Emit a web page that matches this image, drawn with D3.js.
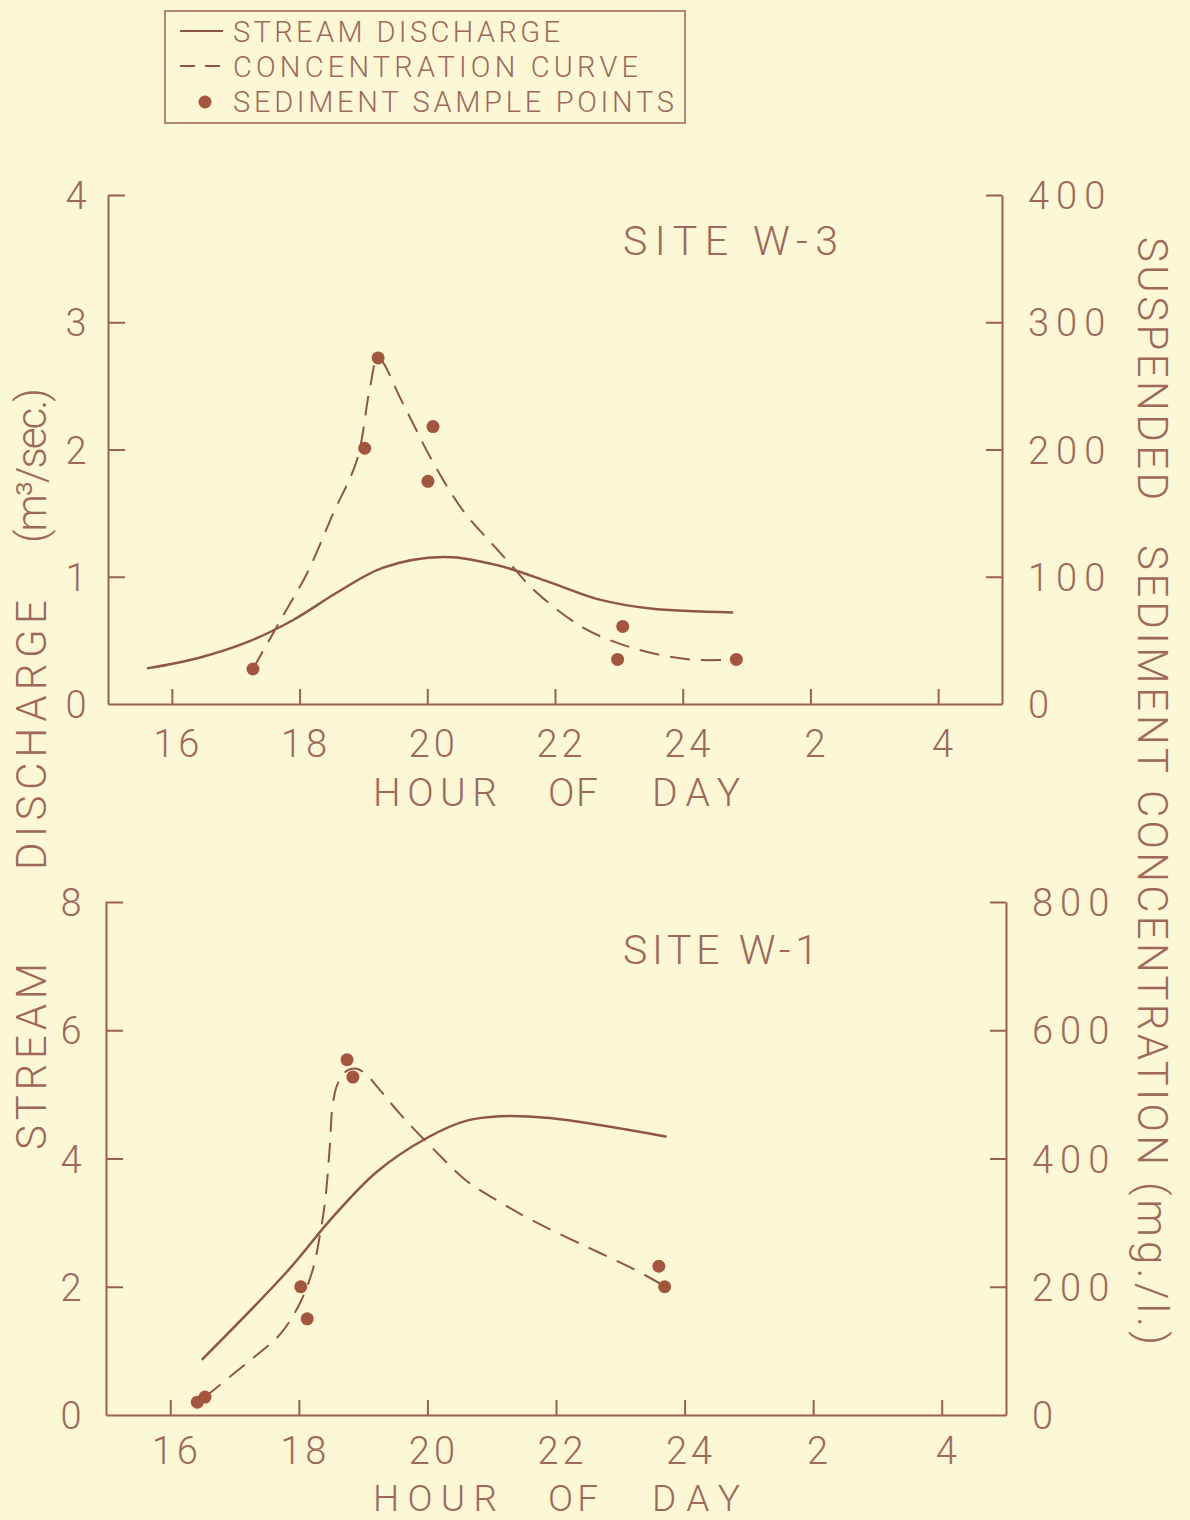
<!DOCTYPE html>
<html>
<head>
<meta charset="utf-8">
<script src="https://cdn.jsdelivr.net/npm/d3@7"></script>
<style>
  html, body { margin: 0; padding: 0; background: #fcf8d6; }
  svg { display: block; }
  text { font-family: "Roboto", "Lato", sans-serif; font-weight: 300; fill: #a0685a; }
</style>
</head>
<body>
<script>

// tick values shared by both panels
const hourTicks = [16, 18, 20, 22, 24, 26, 28];
const hourTickLabels = ["16", "18", "20", "22", "24", "2", "4"];

// SITE W-3 : [hour, discharge m3/sec]
const w3Discharge = [
    [15.61, 0.28], [16.4, 0.36], [17.2, 0.49], [17.9, 0.66], [18.6, 0.88],
    [19.3, 1.07], [20.25, 1.155], [21.1, 1.09], [21.9, 0.96], [22.7, 0.82],
    [23.5, 0.75], [24.79, 0.72]
];
// [hour, concentration mg/l]
const w3Concentration = [
    [17.27, 27.5], [17.69, 65], [18.12, 103], [18.52, 149], [18.90, 192],
    [19.10, 248], [19.23, 272], [19.62, 236], [20.09, 190], [20.56, 152],
    [21.03, 125], [21.30, 110], [21.66, 90], [22.44, 60], [23.22, 44],
    [24.11, 35], [24.83, 35]
];
const w3Samples = [
    [17.27, 27.5], [19.02, 201], [19.23, 272], [20.01, 175], [20.09, 218],
    [22.98, 35], [23.06, 61], [24.84, 35]
];

// SITE W-1
const w1Discharge = [
    [16.49, 0.86], [17.81, 2.23], [18.53, 3.09], [19.21, 3.79], [19.99, 4.32],
    [20.61, 4.59], [21.13, 4.66], [21.90, 4.63], [23.72, 4.34]
];
const w1Concentration = [
    [16.54, 28], [16.98, 64], [17.35, 94], [17.71, 126], [18.02, 175],
    [18.22, 228], [18.33, 282], [18.41, 335], [18.48, 417], [18.53, 487],
    [18.61, 518], [18.75, 537], [18.90, 540], [19.06, 530], [19.21, 513],
    [19.57, 470], [20.09, 415], [20.61, 365], [21.13, 332], [21.64, 303],
    [22.42, 265], [23.20, 228], [23.69, 201]
];
const w1Samples = [
    [16.42, 20], [16.54, 28], [18.03, 200], [18.13, 150], [18.75, 554],
    [18.84, 527], [23.60, 232], [23.69, 200]
];

const ink = "#8f5646";
const dotColor = "#a4553d";
const axisColor = "#9a6050";

const svg = d3.select("body").append("svg")
    .attr("width", 1190)
    .attr("height", 1520);

// legend box
const legend = svg.append("g").attr("class", "legend");
legend.append("rect")
    .attr("x", 165).attr("y", 11)
    .attr("width", 520).attr("height", 112)
    .attr("fill", "none")
    .attr("stroke", axisColor)
    .attr("stroke-width", 1.5);
legend.append("line")
    .attr("x1", 180).attr("x2", 223).attr("y1", 31).attr("y2", 31)
    .attr("stroke", ink).attr("stroke-width", 2);
legend.append("line")
    .attr("x1", 180).attr("x2", 222).attr("y1", 66).attr("y2", 66)
    .attr("stroke", ink).attr("stroke-width", 2)
    .attr("stroke-dasharray", "15,10");
legend.append("circle")
    .attr("cx", 205).attr("cy", 102).attr("r", 6.5)
    .attr("fill", dotColor);
const legendItems = [
    {label: "STREAM DISCHARGE", y: 42, len: 327},
    {label: "CONCENTRATION CURVE", y: 77, len: 405},
    {label: "SEDIMENT SAMPLE POINTS", y: 112, len: 441}
];
legend.selectAll("text.item")
    .data(legendItems)
    .join("text")
    .attr("class", "item")
    .attr("x", 233)
    .attr("y", d => d.y)
    .attr("font-size", 29)
    .attr("textLength", d => d.len)
    .attr("lengthAdjust", "spacing")
    .text(d => d.label);

function drawPanel(p) {
    let g = svg.append("g");

    let x = d3.scaleLinear().domain([15, 29]).range([p.left, p.right]);
    let yQ = d3.scaleLinear().domain([0, p.qMax]).range([p.bottom, p.top]);
    let yC = d3.scaleLinear().domain([0, p.qMax * 100]).range([p.bottom, p.top]);

    // x axis, ticks pointing up
    let xAxis = d3.axisBottom(x)
        .tickValues(hourTicks)
        .tickSizeInner(-15)
        .tickSizeOuter(0)
        .tickFormat((d, i) => hourTickLabels[i]);
    let gx = g.append("g")
        .attr("transform", "translate(0," + p.bottom + ")")
        .call(xAxis);
    gx.selectAll("text")
        .attr("y", p.labelDrop)
        .attr("dy", null)
        .attr("dx", 6)
        .attr("font-size", 38)
        .attr("letter-spacing", 4)
        .attr("fill", null)
        .attr("font-family", null);

    // left axis, ticks pointing in
    let yAxisL = d3.axisLeft(yQ)
        .tickValues(d3.range(0, p.qMax + 0.01, p.qStep))
        .tickSizeInner(-17)
        .tickSizeOuter(0)
        .tickFormat(d3.format("d"));
    let gl = g.append("g")
        .attr("transform", "translate(" + p.left + ",0)")
        .call(yAxisL);
    gl.selectAll("text")
        .attr("x", -p.leftLabelGap)
        .attr("dy", "0.36em")
        .attr("text-anchor", "middle")
        .attr("font-size", 38)
        .attr("fill", null)
        .attr("font-family", null);
    gl.selectAll(".tick").filter(d => d === 0).select("line").remove();

    // right axis
    let yAxisR = d3.axisRight(yC)
        .tickValues(d3.range(0, p.qMax * 100 + 1, p.qStep * 100))
        .tickSizeInner(-16)
        .tickSizeOuter(0)
        .tickFormat(d3.format("d"));
    let gr = g.append("g")
        .attr("transform", "translate(" + p.right + ",0)")
        .call(yAxisR);
    gr.selectAll("text")
        .attr("x", 26)
        .attr("dy", "0.36em")
        .attr("text-anchor", "start")
        .attr("font-size", 38)
        .attr("letter-spacing", 7)
        .attr("fill", null)
        .attr("font-family", null);
    gr.selectAll(".tick").filter(d => d === 0).select("line").remove();

    g.selectAll(".domain, .tick line")
        .attr("stroke", axisColor)
        .attr("stroke-width", 2);

    // discharge curve
    let qLine = d3.line()
        .x(d => x(d[0]))
        .y(d => yQ(d[1]))
        .curve(d3.curveCatmullRom.alpha(0.5));
    g.append("path")
        .datum(p.discharge)
        .attr("fill", "none")
        .attr("stroke", ink)
        .attr("stroke-width", 2.5)
        .attr("d", qLine);

    // concentration curve
    let cLine = d3.line()
        .x(d => x(d[0]))
        .y(d => yC(d[1]))
        .curve(d3.curveCatmullRom.alpha(0.5));
    g.append("path")
        .datum(p.concentration)
        .attr("fill", "none")
        .attr("stroke", ink)
        .attr("stroke-width", 2)
        .attr("stroke-dasharray", "20,11")
        .attr("d", cLine);

    // sample points
    g.selectAll("circle.sample")
        .data(p.samples)
        .join("circle")
        .attr("class", "sample")
        .attr("cx", d => x(d[0]))
        .attr("cy", d => yC(d[1]))
        .attr("r", 6.5)
        .attr("fill", dotColor);

    // site label
    g.append("text")
        .attr("x", 623)
        .attr("y", p.siteY)
        .attr("font-size", 41)
        .attr("textLength", p.siteLen)
        .attr("lengthAdjust", "spacing")
        .text(p.site);

    // x axis title
    let words = [
        {w: "HOUR", x: 373, len: 124},
        {w: "OF", x: 548, len: 50},
        {w: "DAY", x: 652, len: 88}
    ];
    g.selectAll("text.xtitle")
        .data(words)
        .join("text")
        .attr("class", "xtitle")
        .attr("x", d => d.x)
        .attr("y", p.titleY)
        .attr("font-size", p.titleSize)
        .attr("textLength", d => d.len)
        .attr("lengthAdjust", "spacing")
        .text(d => d.w);
}

drawPanel({
    left: 108, right: 1002, top: 195, bottom: 704,
    qMax: 4, qStep: 1, leftLabelGap: 32, labelDrop: 53,
    discharge: w3Discharge, concentration: w3Concentration, samples: w3Samples,
    site: "SITE W-3", siteY: 255, siteLen: 215, titleY: 806, titleSize: 39
});

drawPanel({
    left: 106, right: 1006, top: 902, bottom: 1415,
    qMax: 8, qStep: 2, leftLabelGap: 35, labelDrop: 49,
    discharge: w1Discharge, concentration: w1Concentration, samples: w1Samples,
    site: "SITE W-1", siteY: 964, siteLen: 195, titleY: 1511, titleSize: 37
});

// left y title, reads bottom to top
const leftTitle = [
    {w: "STREAM", start: 1150, len: 187},
    {w: "DISCHARGE", start: 870, len: 270},
    {w: "(m³/sec.)", start: 543, len: 155}
];
svg.append("g")
    .attr("transform", "translate(46,0) rotate(-90)")
    .selectAll("text")
    .data(leftTitle)
    .join("text")
    .attr("x", d => -d.start)
    .attr("y", 0)
    .attr("font-size", 42)
    .attr("textLength", d => d.len)
    .attr("lengthAdjust", "spacing")
    .text(d => d.w);

// right y title, reads top to bottom
const rightTitle = [
    {w: "SUSPENDED", start: 237, len: 263},
    {w: "SEDIMENT", start: 545, len: 228},
    {w: "CONCENTRATION", start: 790, len: 375},
    {w: "(mg./l.)", start: 1182, len: 163}
];
svg.append("g")
    .attr("transform", "translate(1138,0) rotate(90)")
    .selectAll("text")
    .data(rightTitle)
    .join("text")
    .attr("x", d => d.start)
    .attr("y", 0)
    .attr("font-size", 42)
    .attr("textLength", d => d.len)
    .attr("lengthAdjust", "spacing")
    .text(d => d.w);

</script>
</body>
</html>
